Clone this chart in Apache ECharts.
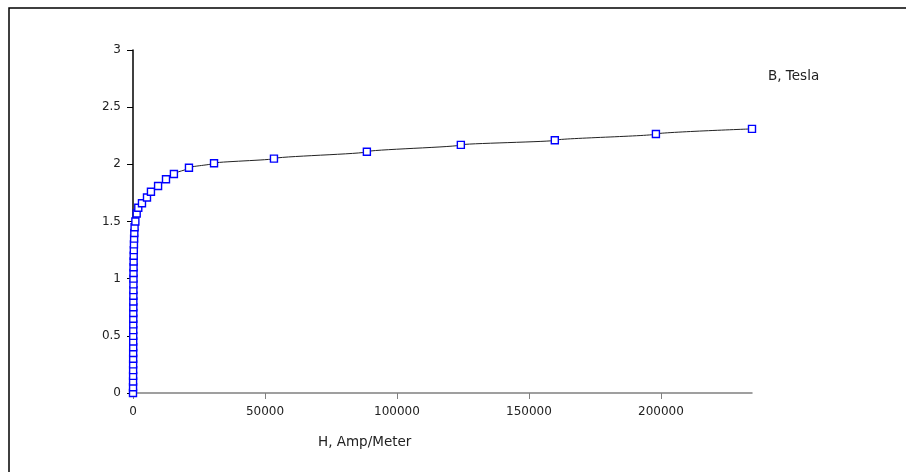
<!DOCTYPE html>
<html><head><meta charset="utf-8">
<script src="https://cdn.jsdelivr.net/npm/echarts@6/dist/echarts.min.js"></script>
<style>html,body{margin:0;padding:0;background:#fff}#c{width:906px;height:472px}</style>
</head><body><div id="c"></div>
<script>
// H, Amp/Meter
var hValues = [0, 20, 30, 38, 45, 52, 58, 64, 70, 76, 82, 88, 95, 102, 110, 118, 127, 137, 148, 160, 175, 192, 212, 237, 270, 315, 360, 420, 500, 600, 900, 1400, 2000, 3400, 5300, 6800, 9500, 12500, 15500, 21200, 30700, 53400, 88600, 124200, 159800, 198100, 234500];
// B, Tesla
var bValues = [0, 0.05, 0.1, 0.15, 0.2, 0.25, 0.3, 0.35, 0.4, 0.45, 0.5, 0.55, 0.6, 0.65, 0.7, 0.75, 0.8, 0.85, 0.9, 0.95, 1.0, 1.05, 1.1, 1.15, 1.2, 1.25, 1.3, 1.35, 1.4, 1.45, 1.5, 1.57, 1.62, 1.66, 1.71, 1.76, 1.81, 1.87, 1.915, 1.97, 2.01, 2.05, 2.11, 2.17, 2.21, 2.265, 2.31];
var xTickInterval = 50000;
var yTickInterval = 0.5;
var xName = 'H, Amp/Meter';
var yName = 'B, Tesla';

var pairs = hValues.map(function(h, i){ return [h, bValues[i]]; });

var chart = echarts.init(document.getElementById('c'), null, {renderer:'canvas'});
var font = 'DejaVu Sans';
chart.setOption({
  animation: false,
  backgroundColor: '#fff',
  graphic: [{
    type: 'rect', shape: {x: 9, y: 8, width: 1000, height: 1000},
    style: {fill: 'none', stroke: '#000', lineWidth: 1.5}, silent: true
  }, {
    type: 'text', left: 768, top: 69,
    style: {text: yName, fill: '#222', font: '13.5px "DejaVu Sans"'}
  }, {
    type: 'text', left: 318, top: 435,
    style: {text: xName, fill: '#222', font: '13.5px "DejaVu Sans"'}
  }],
  grid: {left: 133, right: 154, top: 50, bottom: 79, containLabel: false},
  xAxis: {
    type: 'value', min: 0, max: 234500, interval: xTickInterval,
    splitLine: {show: false},
    axisLine: {lineStyle: {color: '#808080', width: 1.5}},
    axisTick: {show: true, length: 6, lineStyle: {color: '#808080'}},
    axisLabel: {color: '#222', fontFamily: font, fontSize: 12, margin: 13, showMaxLabel: false,
      formatter: function(v){ return String(v); }}
  },
  yAxis: {
    type: 'value', min: 0, max: 3, interval: yTickInterval,
    splitLine: {show: false},
    axisLine: {show: true, lineStyle: {color: '#000', width: 1.5}},
    axisTick: {show: true, length: 6, lineStyle: {color: '#000'}},
    axisLabel: {color: '#222', fontFamily: font, fontSize: 12, margin: 12,
      formatter: function(v){ return String(v); }}
  },
  series: [{
    type: 'line', data: pairs,
    symbol: 'rect', symbolSize: 7,
    showAllSymbol: true,
    smooth: 0.3, smoothMonotone: 'y',
    lineStyle: {color: '#222', width: 1},
    itemStyle: {color: '#fff', borderColor: '#0000ff', borderWidth: 1.4},
    z: 3
  }]
});
</script></body></html>
